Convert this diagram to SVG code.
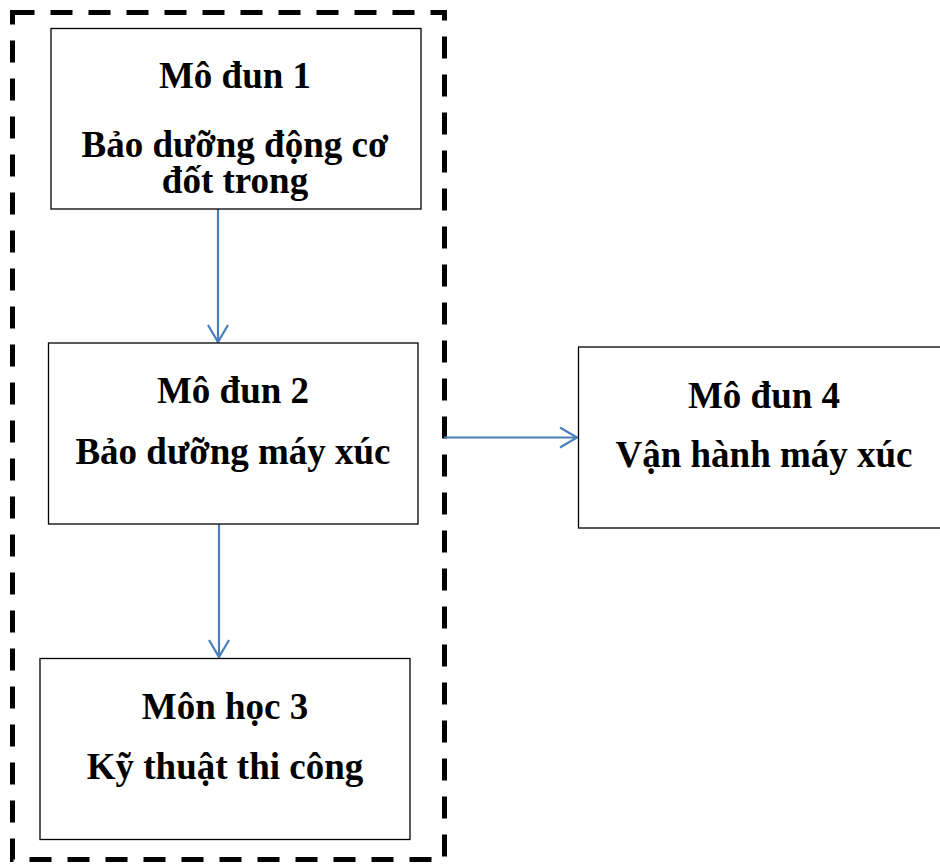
<svg xmlns="http://www.w3.org/2000/svg" width="940" height="865" viewBox="0 0 940 865">
<defs>
<style>
.box{fill:#fff;stroke:#000;stroke-width:1.3}
.t{font-family:"Liberation Serif","Times New Roman",serif;font-weight:bold;font-size:37px;text-anchor:middle;fill:#000}
.c{stroke:#4a7ebb;stroke-width:2.2;fill:none}
</style>
<marker id="ah" markerWidth="24" markerHeight="24" refX="19" refY="11" orient="auto" markerUnits="userSpaceOnUse">
<path d="M2,1 L19,11 L2,21" fill="none" stroke="#4a7ebb" stroke-width="2.2"/>
</marker>
</defs>
<rect x="0" y="0" width="940" height="865" fill="#fff"/>
<g id="group">
<rect x="12.5" y="12.5" width="432" height="847" fill="none" stroke="#000" stroke-width="5" stroke-dasharray="22,16"/>
</g>
<g id="connectors">
<line class="c" x1="218" y1="209" x2="218" y2="342" marker-end="url(#ah)"/>
<line class="c" x1="219" y1="524" x2="219" y2="657" marker-end="url(#ah)"/>
<line class="c" x1="444" y1="437.5" x2="577" y2="437.5" marker-end="url(#ah)"/>
</g>
<g id="n1">
<rect class="box" x="51" y="28.5" width="370" height="180.5"/>
<text class="t" x="235" y="88">Mô đun 1</text>
<text class="t" x="235" y="156.5">Bảo dưỡng động cơ</text>
<text class="t" x="235" y="193">đốt trong</text>
</g>
<g id="n2">
<rect class="box" x="48.5" y="343" width="369.5" height="181"/>
<text class="t" x="233" y="403">Mô đun 2</text>
<text class="t" x="233" y="464">Bảo dưỡng máy xúc</text>
</g>
<g id="n3">
<rect class="box" x="40" y="658.5" width="370" height="181"/>
<text class="t" x="225" y="719">Môn học 3</text>
<text class="t" x="225" y="779">Kỹ thuật thi công</text>
</g>
<g id="n4">
<rect class="box" x="578.5" y="347" width="370" height="181"/>
<text class="t" x="764" y="408">Mô đun 4</text>
<text class="t" x="764" y="467">Vận hành máy xúc</text>
</g>
</svg>
